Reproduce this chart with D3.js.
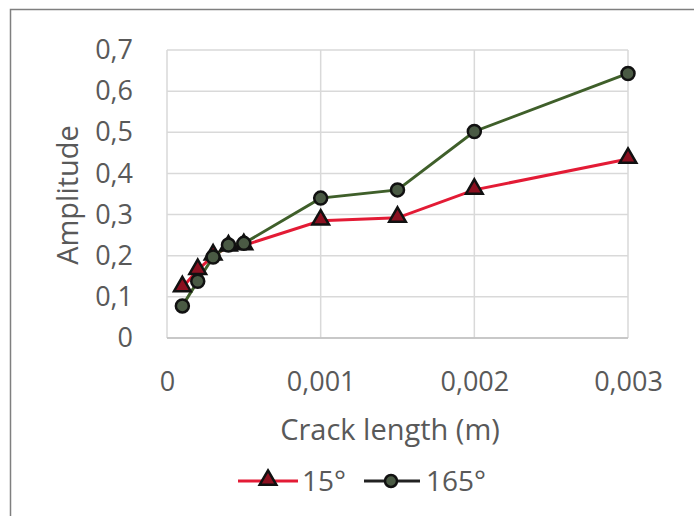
<!DOCTYPE html>
<html>
<head>
<meta charset="utf-8">
<script src="https://cdn.jsdelivr.net/npm/d3@7"></script>
<style>
  html, body { margin: 0; padding: 0; background: #fff; }
  svg { display: block; }
  text { font-family: "Open Sans", sans-serif; fill: #595959; }
</style>
</head>
<body>
<svg id="chart" width="694" height="516"></svg>
<script>
// Crack length (m) for each measurement
const crackLength = [0.0001, 0.0002, 0.0003, 0.0004, 0.0005, 0.001, 0.0015, 0.002, 0.003];
// Amplitude at 15° and 165°
const amp15 = [0.123, 0.165, 0.200, 0.222, 0.225, 0.285, 0.292, 0.360, 0.435];
const amp165 = [0.078, 0.138, 0.197, 0.226, 0.230, 0.340, 0.360, 0.502, 0.643];
const xTicks = [0, 0.001, 0.002, 0.003];
const yTicks = [0, 0.1, 0.2, 0.3, 0.4, 0.5, 0.6, 0.7];
const seriesNames = ["15°", "165°"];

const svg = d3.select("#chart");
const fmt = v => String(v).replace(".", ",");

// outer frame (left and top edges)
svg.append("path")
  .attr("d", "M10.5,516 V9.5 H694")
  .attr("fill", "none").attr("stroke", "#7f7f7f").attr("stroke-width", 1.5);

const plot = { left: 167, right: 628, top: 50, bottom: 338 };
const x = d3.scaleLinear().domain([0, 0.003]).range([plot.left, plot.right]);
const y = d3.scaleLinear().domain([0, 0.7]).range([plot.bottom, plot.top]);

// grid
const grid = svg.append("g").attr("stroke", "#d9d9d9").attr("stroke-width", 1.5);
grid.selectAll(".h").data(yTicks).join("line")
  .attr("x1", plot.left).attr("x2", plot.right)
  .attr("y1", d => y(d)).attr("y2", d => y(d));
grid.selectAll(".v").data(xTicks).join("line")
  .attr("x1", d => x(d)).attr("x2", d => x(d))
  .attr("y1", plot.top).attr("y2", plot.bottom);
svg.append("line")
  .attr("x1", plot.left).attr("x2", plot.right)
  .attr("y1", plot.bottom).attr("y2", plot.bottom)
  .attr("stroke", "#bfbfbf").attr("stroke-width", 1.5);

// axes labels via d3 axes
const yAxis = d3.axisLeft(y).tickValues(yTicks).tickFormat(fmt).tickSize(0).tickPadding(34);
svg.append("g").attr("transform", `translate(${plot.left},0)`).call(yAxis)
  .call(g => g.select(".domain").remove())
  .selectAll("text").attr("font-size", 27).attr("fill", "#595959")
  .attr("font-family", "Open Sans, sans-serif");

const xAxis = d3.axisBottom(x).tickValues(xTicks).tickFormat(fmt).tickSize(0).tickPadding(34);
svg.append("g").attr("transform", `translate(0,${plot.bottom})`).call(xAxis)
  .call(g => g.select(".domain").remove())
  .selectAll("text").attr("font-size", 27).attr("fill", "#595959")
  .attr("font-family", "Open Sans, sans-serif");

svg.append("text").attr("x", 390).attr("y", 440).attr("text-anchor", "middle")
  .attr("font-size", 29).text("Crack length (m)");
svg.append("text").attr("transform", "translate(78,195) rotate(-90)")
  .attr("text-anchor", "middle").attr("font-size", 29).text("Amplitude");

const line = d3.line().x(d => x(d[0])).y(d => y(d[1]));
const d15 = crackLength.map((c, i) => [c, amp15[i]]);
const d165 = crackLength.map((c, i) => [c, amp165[i]]);

const red = "#e31b35", green = "#3f5f2a";
const tri = d3.symbol().type(d3.symbolTriangle).size(120);

svg.append("path").datum(d15).attr("d", line)
  .attr("fill", "none").attr("stroke", red).attr("stroke-width", 3);
svg.append("path").datum(d165).attr("d", line)
  .attr("fill", "none").attr("stroke", green).attr("stroke-width", 3);

svg.selectAll(".m15").data(d15).join("path")
  .attr("d", tri)
  .attr("transform", d => `translate(${x(d[0])},${y(d[1]) - 1})`)
  .attr("fill", "#8b1020").attr("stroke", "#111").attr("stroke-width", 2.5);
svg.selectAll(".m165").data(d165).join("circle")
  .attr("cx", d => x(d[0])).attr("cy", d => y(d[1])).attr("r", 6.5)
  .attr("fill", "#4a5a44").attr("stroke", "#111").attr("stroke-width", 2.5);

// legend
const lg = svg.append("g");
lg.append("line").attr("x1", 238).attr("x2", 298).attr("y1", 481).attr("y2", 481)
  .attr("stroke", red).attr("stroke-width", 3);
lg.append("path").attr("d", tri).attr("transform", "translate(268,480)")
  .attr("fill", "#8b1020").attr("stroke", "#111").attr("stroke-width", 2.5);
lg.append("text").attr("x", 302).attr("y", 491).attr("font-size", 28).text(seriesNames[0]);
lg.append("line").attr("x1", 364).attr("x2", 420).attr("y1", 481).attr("y2", 481)
  .attr("stroke", "#222").attr("stroke-width", 3);
lg.append("circle").attr("cx", 391).attr("cy", 481).attr("r", 6)
  .attr("fill", "#4a5a44").attr("stroke", "#111").attr("stroke-width", 2.5);
lg.append("text").attr("x", 426).attr("y", 491).attr("font-size", 28).text(seriesNames[1]);
</script>
</body>
</html>
